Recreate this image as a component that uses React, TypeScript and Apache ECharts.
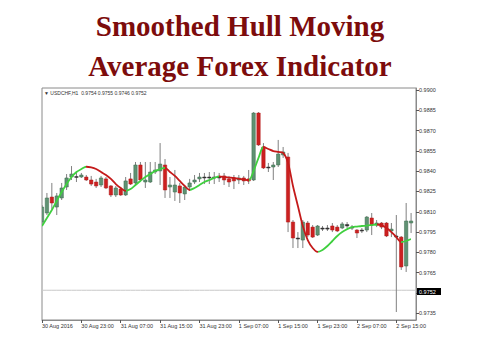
import React, { useEffect, useRef } from "react";
import * as echarts from "echarts";

// ---- data ----
const xTickLabels = [
  "30 Aug 2016", "30 Aug 23:00", "31 Aug 07:00", "31 Aug 15:00", "31 Aug 23:00",
  "1 Sep 07:00", "1 Sep 15:00", "1 Sep 23:00", "2 Sep 07:00", "2 Sep 15:00",
];

const yTickValues = [0.9735, 0.9765, 0.978, 0.9795, 0.981, 0.9825, 0.984, 0.9855, 0.987, 0.9885, 0.99];
const yTickMarks = [0.9735, 0.975, 0.9765, 0.978, 0.9795, 0.981, 0.9825, 0.984, 0.9855, 0.987, 0.9885, 0.99];

const opens = [
  0.98024, 0.98091, 0.98209, 0.98135, 0.98202, 0.98283, 0.98357, 0.98357, 0.98357, 0.98357,
  0.98335, 0.98320, 0.98298, 0.98343, 0.98291, 0.98224, 0.98268, 0.98224, 0.98343, 0.98313,
  0.98446, 0.98320, 0.98320, 0.98394, 0.98402, 0.98446, 0.98283, 0.98246, 0.98291, 0.98232,
  0.98283, 0.98320, 0.98343, 0.98350, 0.98350, 0.98350, 0.98353, 0.98365, 0.98343, 0.98350,
  0.98335, 0.98350, 0.98343, 0.98335, 0.98830, 0.98579, 0.98424, 0.98431, 0.98446, 0.98520,
  0.98505, 0.98024, 0.97899, 0.97891, 0.98017, 0.97987, 0.97928, 0.97972, 0.97972, 0.97995,
  0.97987, 0.97980, 0.97995, 0.97980, 0.97965, 0.97958, 0.97965, 0.98054, 0.98002, 0.98017,
  0.98017, 0.97958, 0.97921, 0.97913, 0.97699, 0.98017,
];
const closes = [
  0.98135, 0.98202, 0.98165, 0.98217, 0.98276, 0.98350, 0.98379, 0.98361, 0.98372, 0.98335,
  0.98305, 0.98291, 0.98350, 0.98276, 0.98224, 0.98276, 0.98224, 0.98328, 0.98305, 0.98446,
  0.98335, 0.98335, 0.98394, 0.98409, 0.98453, 0.98261, 0.98298, 0.98298, 0.98239, 0.98283,
  0.98313, 0.98335, 0.98357, 0.98357, 0.98357, 0.98357, 0.98357, 0.98335, 0.98320, 0.98328,
  0.98350, 0.98328, 0.98328, 0.98830, 0.98594, 0.98424, 0.98431, 0.98446, 0.98527, 0.98542,
  0.98024, 0.97906, 0.97906, 0.98024, 0.97928, 0.97913, 0.97995, 0.97980, 0.97980, 0.97965,
  0.97958, 0.98010, 0.98006, 0.97987, 0.97943, 0.97965, 0.98061, 0.98002, 0.98017, 0.97987,
  0.97921, 0.97972, 0.97913, 0.97692, 0.98032, 0.98032,
];
const lows = [
  0.98010, 0.98076, 0.98121, 0.98076, 0.98187, 0.98261, 0.98335, 0.98320, 0.98350, 0.98328,
  0.98291, 0.98276, 0.98283, 0.98268, 0.98209, 0.98209, 0.98217, 0.98217, 0.98298, 0.98298,
  0.98328, 0.98276, 0.98313, 0.98379, 0.98298, 0.98202, 0.98202, 0.98180, 0.98165, 0.98187,
  0.98268, 0.98305, 0.98320, 0.98305, 0.98305, 0.98305, 0.98320, 0.98298, 0.98283, 0.98268,
  0.98305, 0.98298, 0.98305, 0.98328, 0.98587, 0.98416, 0.98394, 0.98335, 0.98431, 0.98498,
  0.97950, 0.97832, 0.97832, 0.97832, 0.97913, 0.97906, 0.97921, 0.97958, 0.97958, 0.97950,
  0.97950, 0.97972, 0.97980, 0.97965, 0.97906, 0.97943, 0.97950, 0.97928, 0.97987, 0.97972,
  0.97913, 0.97913, 0.97359, 0.97670, 0.97655, 0.97943,
];
const highs = [
  0.98150, 0.98239, 0.98313, 0.98239, 0.98313, 0.98379, 0.98438, 0.98394, 0.98387, 0.98372,
  0.98365, 0.98343, 0.98365, 0.98357, 0.98298, 0.98291, 0.98276, 0.98357, 0.98387, 0.98468,
  0.98468, 0.98468, 0.98468, 0.98468, 0.98608, 0.98490, 0.98357, 0.98409, 0.98313, 0.98291,
  0.98343, 0.98372, 0.98387, 0.98387, 0.98394, 0.98394, 0.98387, 0.98387, 0.98365, 0.98372,
  0.98372, 0.98365, 0.98409, 0.98837, 0.98837, 0.98608, 0.98461, 0.98468, 0.98631, 0.98579,
  0.98535, 0.98039, 0.97950, 0.98039, 0.98032, 0.98002, 0.98002, 0.97995, 0.98002, 0.98017,
  0.98002, 0.98024, 0.98024, 0.98002, 0.97972, 0.97980, 0.98069, 0.98091, 0.98039, 0.98024,
  0.98024, 0.98017, 0.98076, 0.97921, 0.98165, 0.98091,
];

const hull = [
  0.97995, 0.98054, 0.98113, 0.98180, 0.98246, 0.98305, 0.98357, 0.98394, 0.98416, 0.98433,
  0.98428, 0.98416, 0.98394, 0.98372, 0.98343, 0.98305, 0.98276, 0.98254, 0.98268, 0.98298,
  0.98328, 0.98357, 0.98379, 0.98402, 0.98416, 0.98424, 0.98394, 0.98365, 0.98328, 0.98291,
  0.98261, 0.98276, 0.98298, 0.98320, 0.98335, 0.98350, 0.98361, 0.98357, 0.98353, 0.98350,
  0.98343, 0.98339, 0.98331, 0.98402, 0.98498, 0.98579, 0.98564, 0.98549, 0.98542, 0.98535,
  0.98461, 0.98291, 0.98143, 0.97995, 0.97891, 0.97832, 0.97803, 0.97818, 0.97847, 0.97884,
  0.97921, 0.97950, 0.97972, 0.97987, 0.97991, 0.97995, 0.97998, 0.98002, 0.98006, 0.98002,
  0.97980, 0.97950, 0.97913, 0.97876, 0.97884, 0.97899,
];

const currentPrice = 0.9752;
const headerText = "\u25BC USDCHF,H1  0.9754 0.9755 0.9746 0.9752";
const titleText = "Smoothed Hull Moving\nAverage Forex Indicator";
const slotCount = 77;

export default function App() {
  const ref = useRef<HTMLDivElement>(null);
  useEffect(() => {
    if (!ref.current) return;
    const chart = echarts.init(ref.current, undefined, { renderer: "svg" });

    const categories = Array.from({ length: slotCount }, (_, i) => "h" + i);
    const candleData = opens.map((o, i) => [i, o, closes[i], lows[i], highs[i]]);
    const priceLine = categories.map(() => currentPrice);

    const pieces: any[] = [];
    for (let i = 0; i < hull.length - 1; i++) {
      const color = hull[i + 1] >= hull[i] ? "#3fcf3f" : "#c41a1a";
      const last = pieces[pieces.length - 1];
      if (last && last.color === color) last.lte = i + 1;
      else pieces.push({ gte: i, lte: i + 1, color });
    }
    for (let k = 1; k < pieces.length; k++) {
      pieces[k].gt = pieces[k].gte;
      delete pieces[k].gte;
    }

    const axisFont = { fontFamily: "Liberation Sans", fontSize: 5.5, color: "#333" };

    chart.setOption({
      animation: false,
      backgroundColor: "#ffffff",
      title: {
        text: titleText,
        left: "center",
        top: 6,
        padding: 0,
        textStyle: {
          fontFamily: "Liberation Serif",
          fontWeight: "bold",
          fontSize: 29,
          lineHeight: 40,
          color: "#7d0c0c",
        },
      },
      grid: {
        left: 42,
        top: 88,
        right: 64,
        bottom: 40,
        show: true,
        borderColor: "#8a8a8a",
        borderWidth: 1,
        backgroundColor: "#ffffff",
      },
      graphic: [
        {
          type: "text",
          left: 44,
          top: 90,
          style: { text: headerText, fontFamily: "Liberation Sans", fontSize: 5, fill: "#333" },
        },
        {
          type: "rect",
          left: 417,
          top: 288,
          shape: { width: 24, height: 7 },
          style: { fill: "#000" },
          z: 100,
        },
        {
          type: "text",
          left: 419,
          top: 288.5,
          style: { text: currentPrice.toFixed(4), fontFamily: "Liberation Sans", fontSize: 5.5, fill: "#fff" },
          z: 101,
        },
      ],
      visualMap: {
        show: false,
        type: "piecewise",
        seriesIndex: 1,
        dimension: 0,
        pieces,
      },
      xAxis: {
        type: "category",
        data: categories,
        boundaryGap: false,
        axisLine: { show: true, lineStyle: { color: "#8a8a8a" } },
        axisTick: { show: true, interval: 7, length: 3, lineStyle: { color: "#555" } },
        axisLabel: {
          interval: 7,
          align: "left",
          margin: 3,
          ...axisFont,
          formatter: (_v: string, idx: number) => xTickLabels[idx / 8] ?? "",
        },
        splitLine: { show: false },
      },
      yAxis: {
        type: "value",
        position: "right",
        min: 0.973,
        max: 0.99015,
        scale: true,
        axisLine: { show: true, lineStyle: { color: "#8a8a8a" } },
        axisTick: { show: true, length: 3, customValues: yTickMarks, lineStyle: { color: "#555" } },
        axisLabel: {
          customValues: yTickValues,
          margin: 3,
          ...axisFont,
          formatter: (v: number) => v.toFixed(4),
        },
        splitLine: { show: false },
      },
      series: [
        {
          type: "custom",
          name: "USDCHF",
          clip: true,
          encode: { x: 0, y: [1, 2, 3, 4] },
          data: candleData,
          renderItem: (_params: any, api: any) => {
            const i = api.value(0);
            const o = api.value(1);
            const c = api.value(2);
            const l = api.value(3);
            const h = api.value(4);
            const pO = api.coord([i, o]);
            const pC = api.coord([i, c]);
            const pL = api.coord([i, l]);
            const pH = api.coord([i, h]);
            const w = 3.4;
            const top = Math.min(pO[1], pC[1]);
            const diff = Math.abs(pO[1] - pC[1]);
            const bh = Math.max(1, diff);
            const bull = c >= o;
            let fill = bull ? "#5f9273" : "#cc2020";
            let stroke = bull ? "#3c6a4c" : "#b01818";
            if (diff < 1.5) {
              fill = "#333";
              stroke = "#333";
            }
            return {
              type: "group",
              children: [
                {
                  type: "line",
                  shape: { x1: pH[0], y1: pH[1], x2: pL[0], y2: pL[1] },
                  style: { stroke: "#808080", lineWidth: 1 },
                },
                {
                  type: "rect",
                  shape: { x: pO[0] - w / 2, y: top, width: w, height: bh },
                  style: { fill, stroke, lineWidth: 0.5 },
                },
              ],
            };
          },
          z: 2,
        },
        {
          type: "line",
          name: "Hull",
          data: hull,
          smooth: 0.3,
          showSymbol: false,
          symbol: "none",
          lineStyle: { width: 1.8 },
          z: 3,
        },
        {
          type: "line",
          name: "price",
          data: priceLine,
          symbol: "none",
          showSymbol: false,
          lineStyle: { color: "#c8c8c8", width: 1 },
          z: 1,
        },
      ],
    });
    return () => chart.dispose();
  }, []);
  return (
    <div
      ref={ref}
      style={{ position: "fixed", left: 0, top: 0, width: 480, height: 360, background: "#fff" }}
    />
  );
}
